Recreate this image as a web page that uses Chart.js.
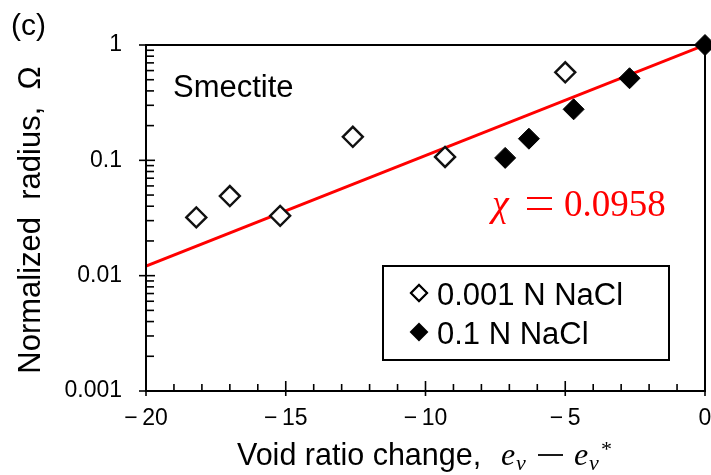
<!DOCTYPE html>
<html>
<head>
<meta charset="utf-8">
<script src="https://cdn.jsdelivr.net/npm/chart.js@4/dist/chart.umd.min.js"></script>
<style>
html,body{margin:0;padding:0;background:#fff;}
#wrap{width:711px;height:475px;position:relative;}
</style>
</head>
<body>
<div id="wrap"><canvas id="c" width="711" height="475"></canvas></div>
<script>
// ---- data ----
const open001X = [-18.2, -17.0, -15.2, -12.6, -9.3, -5.0];
const open001Y = [0.032, 0.049, 0.033, 0.16, 0.107, 0.58];
const filled01X = [-7.15, -6.3, -4.7, -2.7, 0];
const filled01Y = [0.105, 0.154, 0.277, 0.515, 1];
const fitX = [-20, 0];
const fitY = [0.0121, 1];
const xTickValues = [-20, -15, -10, -5, 0];
const yTickValues = [0.001, 0.01, 0.1, 1];
const seriesNames = ['0.001 N NaCl', '0.1 N NaCl'];
const fitLabel = '0.0958';

const pts = (xs, ys) => xs.map((x, i) => ({x: x, y: ys[i]}));
const SANS = '"Liberation Sans", Arial, sans-serif';
const SERIF = '"Liberation Serif", "Times New Roman", serif';

const decorPlugin = {
  id: 'decor',
  afterDatasetsDraw(chart) {
    const ctx = chart.ctx;
    const a = chart.chartArea;
    const xs = chart.scales.x, ys = chart.scales.y;
    ctx.save();
    ctx.strokeStyle = '#000';
    ctx.lineWidth = 2;
    ctx.strokeRect(a.left, a.top, a.right - a.left, a.bottom - a.top);
    ctx.lineWidth = 1.6;
    for (let d = -3; d <= 0; d++) {
      const base = Math.pow(10, d);
      const py = ys.getPixelForValue(base);
      ctx.beginPath(); ctx.moveTo(a.left - 7, py); ctx.lineTo(a.left + 9, py); ctx.stroke();
      if (d < 0) {
        for (let m = 2; m <= 9; m++) {
          const p = ys.getPixelForValue(base * m);
          ctx.beginPath(); ctx.moveTo(a.left, p); ctx.lineTo(a.left + 8, p); ctx.stroke();
        }
      }
    }
    for (let v = -20; v <= 0; v++) {
      const px = xs.getPixelForValue(v);
      ctx.beginPath();
      if (v % 5 === 0) { ctx.moveTo(px, a.bottom + 5); ctx.lineTo(px, a.bottom - 10); }
      else { ctx.moveTo(px, a.bottom); ctx.lineTo(px, a.bottom - 7); }
      ctx.stroke();
    }
    ctx.restore();
  },
  afterDraw(chart) {
    const ctx = chart.ctx;
    ctx.save();
    ctx.fillStyle = '#000';
    ctx.strokeStyle = '#000';
    ctx.textBaseline = 'alphabetic';
    ctx.textAlign = 'left';
    ctx.font = '30px ' + SANS;
    ctx.fillText('(c)', 11, 35);
    ctx.font = '31px ' + SANS;
    ctx.fillText('Smectite', 173, 97);
    // x title
    ctx.font = '30.5px ' + SANS;
    ctx.fillText('Void ratio change,', 237, 465);
    ctx.font = 'italic 32px ' + SERIF;
    ctx.fillText('e', 501, 465);
    ctx.font = 'italic 22px ' + SERIF;
    ctx.fillText('v', 516, 470);
    ctx.lineWidth = 1.8;
    ctx.beginPath(); ctx.moveTo(538, 455); ctx.lineTo(563, 455); ctx.stroke();
    ctx.font = 'italic 32px ' + SERIF;
    ctx.fillText('e', 574, 465);
    ctx.font = 'italic 22px ' + SERIF;
    ctx.fillText('v', 589, 470);
    ctx.font = '22px ' + SERIF;
    ctx.fillText('*', 601, 456);
    // y title
    ctx.save();
    ctx.translate(40, 220);
    ctx.rotate(-Math.PI / 2);
    ctx.textAlign = 'center';
    ctx.font = '31px ' + SANS;
    ctx.fillText('Normalized  radius,  \u03A9', 0, 0);
    ctx.restore();
    // chi annotation
    ctx.fillStyle = '#ff0000';
    ctx.strokeStyle = '#ff0000';
    ctx.font = 'italic 38px ' + SERIF;
    ctx.fillText('\u03C7', 492, 216);
    ctx.lineWidth = 2.2;
    ctx.beginPath();
    ctx.moveTo(527, 198); ctx.lineTo(552, 198);
    ctx.moveTo(527, 209); ctx.lineTo(552, 209);
    ctx.stroke();
    ctx.font = '37px ' + SERIF;
    ctx.fillText(fitLabel, 564, 216);
    // legend
    ctx.strokeStyle = '#000';
    ctx.lineWidth = 2;
    ctx.fillStyle = '#fff';
    ctx.fillRect(383, 266, 286, 94);
    ctx.strokeRect(383, 266, 286, 94);
    const H = Chart.helpers;
    ctx.lineWidth = 2;
    ctx.fillStyle = '#fff';
    H.drawPoint(ctx, {pointStyle: 'rectRot', radius: 8, borderWidth: 2}, 419, 293);
    ctx.fill(); ctx.stroke();
    ctx.fillStyle = '#000';
    H.drawPoint(ctx, {pointStyle: 'rectRot', radius: 8, borderWidth: 2}, 419, 332);
    ctx.fill();
    ctx.font = '31px ' + SANS;
    ctx.fillText(seriesNames[0], 437, 305);
    ctx.fillText(seriesNames[1], 437, 344);
    ctx.restore();
  }
};

new Chart(document.getElementById('c'), {
  type: 'scatter',
  data: {
    datasets: [
      {
        label: 'fit', type: 'line', data: pts(fitX, fitY),
        borderColor: '#ff0000', borderWidth: 3, pointRadius: 0, fill: false, order: 5, tension: 0
      },
      {
        label: seriesNames[0], data: pts(open001X, open001Y),
        pointStyle: 'rectRot', pointRadius: 10, pointBorderWidth: 2.4,
        pointBackgroundColor: '#fff', pointBorderColor: '#111', order: 1, clip: false
      },
      {
        label: seriesNames[1], data: pts(filled01X, filled01Y),
        pointStyle: 'rectRot', pointRadius: 10.5, pointBorderWidth: 1,
        pointBackgroundColor: '#000', pointBorderColor: '#000', order: 0, clip: false
      }
    ]
  },
  options: {
    responsive: false,
    animation: false,
    devicePixelRatio: 1,
    layout: {autoPadding: false, padding: {left: 46, right: 6, top: 45, bottom: 34}},
    plugins: {legend: {display: false}, tooltip: {enabled: false}},
    scales: {
      x: {
        type: 'linear', min: -20, max: 0,
        grid: {display: false, drawTicks: false},
        border: {display: false},
        afterBuildTicks: s => { s.ticks = xTickValues.map(v => ({value: v})); },
        afterFit: s => { s.height = 50; s.paddingLeft = 0; s.paddingRight = 0; },
        ticks: {
          padding: 14, color: '#000', maxRotation: 0,
          font: {family: SANS, size: 23},
          callback: v => v < 0 ? '\u2212\u2009' + Math.abs(v) : String(v)
        }
      },
      y: {
        type: 'logarithmic', min: 0.001, max: 1,
        grid: {display: false, drawTicks: false},
        border: {display: false},
        afterBuildTicks: s => { s.ticks = yTickValues.map(v => ({value: v})); },
        afterFit: s => { s.width = 100; s.paddingTop = 0; s.paddingBottom = 0; },
        ticks: {
          padding: 24, color: '#000',
          font: {family: SANS, size: 23},
          callback: v => String(v)
        }
      }
    }
  },
  plugins: [decorPlugin]
});
</script>
</body>
</html>
